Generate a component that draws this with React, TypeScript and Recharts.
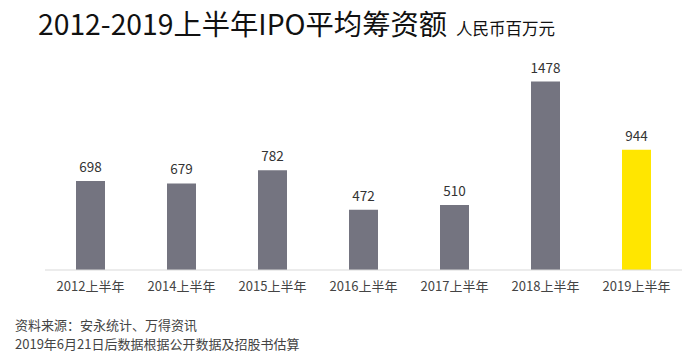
import { BarChart, Bar, XAxis, YAxis, Cell, LabelList } from 'recharts';

const years = ['2012上半年', '2014上半年', '2015上半年', '2016上半年', '2017上半年', '2018上半年', '2019上半年'];
const amounts = [698, 679, 782, 472, 510, 1478, 944];
const barColors = ['#747480', '#747480', '#747480', '#747480', '#747480', '#747480', '#FFE600'];

const font = '"Noto Sans CJK SC", "Noto Sans", sans-serif';

export default function App() {
  const data = years.map((y, i) => ({ year: y, value: amounts[i] }));

  return (
    <div style={{ position: 'absolute', left: 0, top: 0, width: 700, height: 357, background: '#fff', fontFamily: font }}>
      {/* title */}
      <div style={{ position: 'absolute', left: 38, top: 2, whiteSpace: 'nowrap', color: '#111' }}>
        <span style={{ fontSize: 28.3 }}>2012-2019上半年IPO平均筹资额</span>
        <span style={{ fontSize: 16.5, marginLeft: 9 }}>人民币百万元</span>
      </div>

      <div style={{ position: 'absolute', left: 0, top: 0 }}>
        <BarChart width={700} height={357} data={data} margin={{ top: 66, right: 18, bottom: 57, left: 45 }}>
          <XAxis
            dataKey="year"
            tickLine={false}
            axisLine={{ stroke: '#d9d9d9' }}
            tick={{ fontSize: 13, fill: '#444', fontFamily: font }}
            tickMargin={6}
            interval={0}
          />
          <YAxis hide domain={[0, 1600]} />
          <Bar dataKey="value" barSize={29} isAnimationActive={false}>
            {data.map((d, i) => (
              <Cell key={d.year} fill={barColors[i]} />
            ))}
            <LabelList dataKey="value" position="top" offset={9} style={{ fontSize: 13.5, fill: '#333', fontFamily: font }} />
          </Bar>
        </BarChart>
      </div>

      {/* footnote */}
      <div style={{ position: 'absolute', left: 15, top: 315, height: 19, fontSize: 13, lineHeight: '19px', color: '#444', whiteSpace: 'nowrap' }}>
        资料来源：安永统计、万得资讯
      </div>
      <div style={{ position: 'absolute', left: 15, top: 334, height: 19, fontSize: 13, lineHeight: '19px', color: '#444', whiteSpace: 'nowrap' }}>
        2019年6月21日后数据根据公开数据及招股书估算
      </div>
    </div>
  );
}
